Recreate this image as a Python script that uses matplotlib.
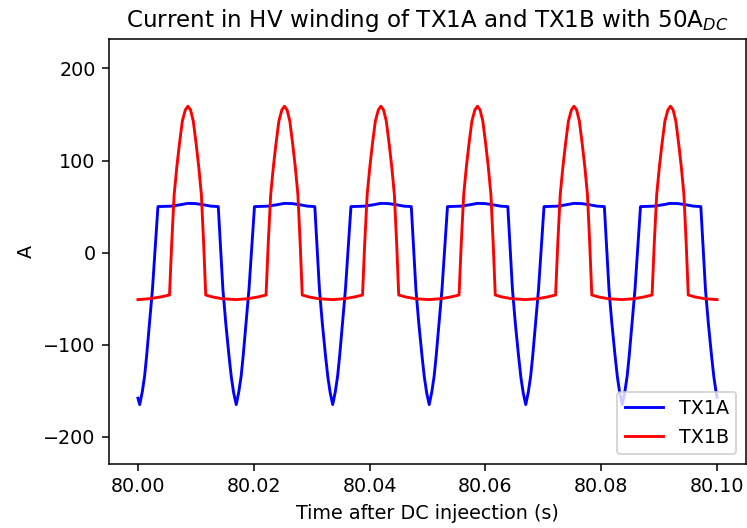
import numpy as np
import matplotlib
matplotlib.use("Agg")
import matplotlib.pyplot as plt

# TX1A (blue) - time in ms after 80 s, current in A
tx1a_ms = [
    0.00,
    0.30, 0.75, 1.15, 1.50, 2.00, 2.50, 3.45, 5.80, 7.30, 8.60, 9.90, 11.30, 12.60, 13.87, 14.67, 15.17, 15.72, 16.12, 16.52,
    16.97, 17.42, 17.82, 18.17, 18.67, 19.17, 20.12, 22.47, 23.97, 25.27, 26.57, 27.97, 29.27, 30.54, 31.34, 31.84, 32.39, 32.79, 33.19,
    33.63, 34.08, 34.48, 34.83, 35.33, 35.83, 36.78, 39.13, 40.63, 41.93, 43.23, 44.63, 45.93, 47.20, 48.00, 48.50, 49.05, 49.45, 49.85,
    50.30, 50.75, 51.15, 51.50, 52.00, 52.50, 53.45, 55.80, 57.30, 58.60, 59.90, 61.30, 62.60, 63.87, 64.67, 65.17, 65.72, 66.12, 66.52,
    66.97, 67.42, 67.82, 68.17, 68.67, 69.17, 70.12, 72.47, 73.97, 75.27, 76.57, 77.97, 79.27, 80.54, 81.34, 81.84, 82.39, 82.79, 83.19,
    83.63, 84.08, 84.48, 84.83, 85.33, 85.83, 86.78, 89.13, 90.63, 91.93, 93.23, 94.63, 95.93, 97.20, 98.00, 98.50, 99.05, 99.45, 99.85,
    100.00,
]
tx1a_amps = [
    -158,
    -165, -151, -134, -112, -76, -40, 50, 50.5, 52, 53.5, 53.3, 52, 50.5, 50, -40, -77, -112, -135, -152,
    -165, -151, -134, -112, -76, -40, 50, 50.5, 52, 53.5, 53.3, 52, 50.5, 50, -40, -77, -112, -135, -152,
    -165, -151, -134, -112, -76, -40, 50, 50.5, 52, 53.5, 53.3, 52, 50.5, 50, -40, -77, -112, -135, -152,
    -165, -151, -134, -112, -76, -40, 50, 50.5, 52, 53.5, 53.3, 52, 50.5, 50, -40, -77, -112, -135, -152,
    -165, -151, -134, -112, -76, -40, 50, 50.5, 52, 53.5, 53.3, 52, 50.5, 50, -40, -77, -112, -135, -152,
    -165, -151, -134, -112, -76, -40, 50, 50.5, 52, 53.5, 53.3, 52, 50.5, 50, -40, -77, -112, -135, -152,
    -157,
]

# TX1B (red)
tx1b_ms = [
    0.00, 2.00, 4.00,
    5.45, 5.82, 6.25, 6.71, 7.16, 7.67, 8.18, 8.63, 9.08, 9.55, 10.05, 10.50, 10.95, 11.35, 11.70, 12.80, 14.50, 16.90, 19.00, 20.80,
    22.12, 22.49, 22.92, 23.38, 23.83, 24.34, 24.85, 25.30, 25.75, 26.22, 26.72, 27.17, 27.62, 28.02, 28.37, 29.47, 31.17, 33.57, 35.67, 37.47,
    38.78, 39.15, 39.58, 40.04, 40.49, 41.00, 41.51, 41.96, 42.41, 42.88, 43.38, 43.83, 44.28, 44.68, 45.03, 46.13, 47.83, 50.23, 52.33, 54.13,
    55.45, 55.82, 56.25, 56.71, 57.16, 57.67, 58.18, 58.63, 59.08, 59.55, 60.05, 60.50, 60.95, 61.35, 61.70, 62.80, 64.50, 66.90, 69.00, 70.80,
    72.12, 72.49, 72.92, 73.38, 73.83, 74.34, 74.85, 75.30, 75.75, 76.22, 76.72, 77.17, 77.62, 78.02, 78.37, 79.47, 81.17, 83.57, 85.67, 87.47,
    88.78, 89.15, 89.58, 90.04, 90.49, 91.00, 91.51, 91.96, 92.41, 92.88, 93.38, 93.83, 94.28, 94.68, 95.03, 96.13, 97.83, 100.00,
]
tx1b_amps = [
    -51, -50, -48,
    -46, 9, 63, 93, 118, 143, 155, 159, 155, 143, 118, 93, 63, 9, -46, -48, -50, -51, -50, -48,
    -46, 9, 63, 93, 118, 143, 155, 159, 155, 143, 118, 93, 63, 9, -46, -48, -50, -51, -50, -48,
    -46, 9, 63, 93, 118, 143, 155, 159, 155, 143, 118, 93, 63, 9, -46, -48, -50, -51, -50, -48,
    -46, 9, 63, 93, 118, 143, 155, 159, 155, 143, 118, 93, 63, 9, -46, -48, -50, -51, -50, -48,
    -46, 9, 63, 93, 118, 143, 155, 159, 155, 143, 118, 93, 63, 9, -46, -48, -50, -51, -50, -48,
    -46, 9, 63, 93, 118, 143, 155, 159, 155, 143, 118, 93, 63, 9, -46, -48, -50, -51,
]

t_a = 80 + np.array(tx1a_ms) / 1000
t_b = 80 + np.array(tx1b_ms) / 1000

DPI = 138
fig = plt.figure(figsize=(747 / DPI, 528 / DPI), dpi=DPI)
ax = fig.add_axes([109 / 747, (528 - 464) / 528, 637 / 747, 425 / 528])

ax.plot(t_a, tx1a_amps, color="b", label="TX1A")
ax.plot(t_b, tx1b_amps, color="r", label="TX1B")

ax.set_ylim(-229.5, 232)
ax.set_xticks([80.00, 80.02, 80.04, 80.06, 80.08, 80.10])
ax.set_xticklabels(["80.00", "80.02", "80.04", "80.06", "80.08", "80.10"])
ax.set_title("Current in HV winding of TX1A and TX1B with 50A$_{DC}$")
ax.set_xlabel("Time after DC injeection (s)")
ax.set_ylabel("A")
ax.legend(loc="lower right")

fig.savefig("out.png", dpi=DPI)
